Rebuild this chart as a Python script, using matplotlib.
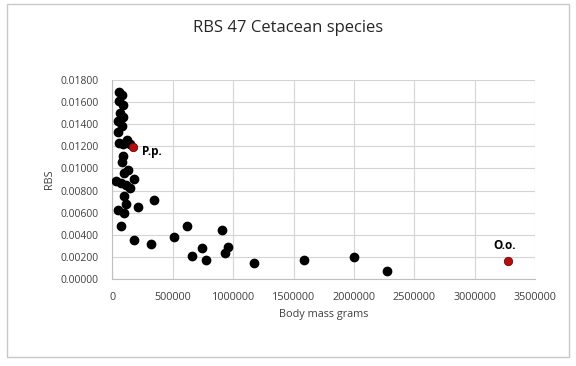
# Scatter of RBS against body mass for 47 cetacean species
import numpy as np
import matplotlib.pyplot as plt
from matplotlib.ticker import FuncFormatter, MultipleLocator
from matplotlib.patches import Rectangle

# Data (body mass in grams, RBS)
mass = [56000, 81000, 54000, 90000, 62000, 90000, 45000, 79000, 45000, 51000,
        84000, 117000, 145000, 90000, 79000, 131000, 95000, 31000, 70000, 181000,
        112000, 145000, 95000, 346000, 109000, 214000, 45000, 98000, 73000, 614000,
        181000, 316000, 509000, 655000, 738000, 771000, 909000, 953000, 934000, 1171000,
        1588000, 2002000, 2275000]
rbs = [0.01695, 0.0166, 0.01612, 0.01576, 0.0150, 0.01465, 0.01432, 0.0138, 0.0133, 0.01229,
       0.01217, 0.01253, 0.01222, 0.0111, 0.0106, 0.00987, 0.00962, 0.00882, 0.00864, 0.00903,
       0.0085, 0.00822, 0.00753, 0.00715, 0.00679, 0.00655, 0.00625, 0.00595, 0.00481, 0.00481,
       0.00356, 0.00317, 0.00377, 0.00206, 0.00281, 0.0017, 0.00446, 0.0029, 0.00233, 0.00141,
       0.0017, 0.00197, 0.00072]

# Highlighted species
hl_names = ['P.p.', 'O.o.']
hl_mass = [172000, 3274000]
hl_rbs = [0.01193, 0.00164]

plt.rcParams['font.family'] = ['Open Sans', 'DejaVu Sans']

fig = plt.figure(figsize=(5.76, 3.66), dpi=100)
fig.patches.append(Rectangle((7 / 576, 1 - 357 / 366), 562 / 576, 353 / 366,
                             transform=fig.transFigure, fill=False,
                             edgecolor='#c8c8c8', linewidth=1))
ax = fig.add_axes([0.1953, 0.2377, 0.7335, 0.5437])

ax.scatter(mass, rbs, s=36, color='black', zorder=3)
ax.scatter(hl_mass, hl_rbs, s=36, color='#b01010', edgecolor='#7a0000', linewidth=0.6, zorder=4)
ax.annotate(hl_names[0], (hl_mass[0], hl_rbs[0]), xytext=(6, -3), textcoords='offset points',
            fontsize=8.5, fontweight='bold', va='center', ha='left')
ax.annotate(hl_names[1], (hl_mass[1], hl_rbs[1]), xytext=(-2, 11), textcoords='offset points',
            fontsize=8.5, fontweight='bold', va='center', ha='center')

ax.set_xlim(0, 3500000)
ax.set_ylim(0, 0.018)
ax.xaxis.set_major_locator(MultipleLocator(500000))
ax.yaxis.set_major_locator(MultipleLocator(0.002))
ax.xaxis.set_major_formatter(FuncFormatter(lambda v, p: '%d' % v))
ax.yaxis.set_major_formatter(FuncFormatter(lambda v, p: '%.5f' % v))
ax.tick_params(axis='y', length=0, labelsize=7.5, colors='#404040', pad=10)
ax.tick_params(axis='x', length=0, labelsize=7.8, colors='#404040', pad=9)
ax.grid(True, color='#d4d4d4', linewidth=0.8)
ax.set_axisbelow(True)
for s in ['top', 'right']:
    ax.spines[s].set_visible(False)
for s in ['left', 'bottom']:
    ax.spines[s].set_color('#bfbfbf')

fig.text(288 / 576, 1 - 28 / 366, 'RBS 47 Cetacean species', fontsize=12, color='#262626',
         ha='center', va='center')
ax.set_xlabel('Body mass grams', fontsize=7.8, color='#404040', labelpad=5)
ax.set_ylabel('RBS', fontsize=7.8, color='#404040')
ax.yaxis.set_label_coords(-0.135, 0.5)

fig.savefig('out.png', dpi=100)
